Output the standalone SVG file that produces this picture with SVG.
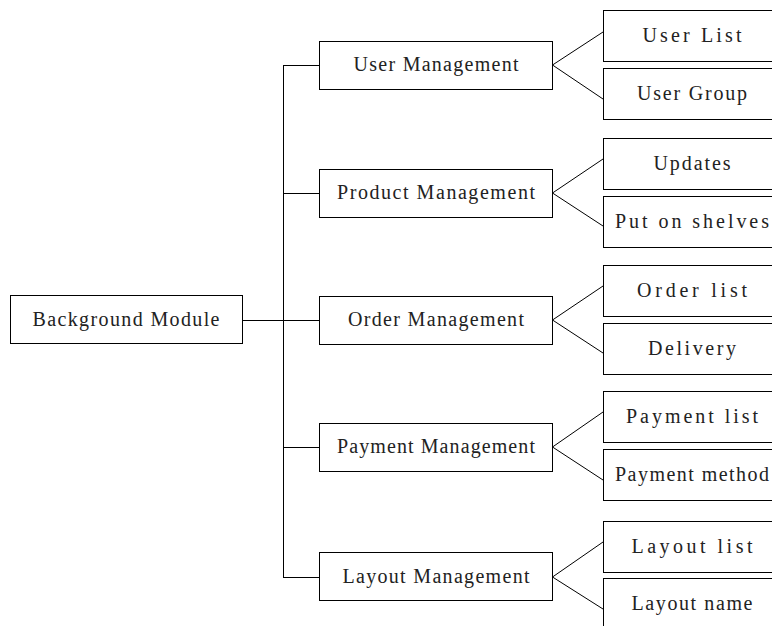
<svg xmlns="http://www.w3.org/2000/svg" width="772" height="626" viewBox="0 0 772 626">
<style>
.box{fill:#fff;stroke:#000;stroke-width:1}
.t{font-family:"Liberation Serif","DejaVu Serif",serif;font-size:20px;fill:#222;text-anchor:middle}
.ln{fill:none;stroke:#000;stroke-width:1}
</style>
<rect width="772" height="626" fill="#fff"/>
<g id="connectors">
<path class="ln" d="M242 320.5H283" stroke-width="2"/>
<path class="ln" d="M283.5 65.5V577.5"/>
<path class="ln" d="M283 65.5H319M283 193.5H319M283 320.5H319M283 447.5H319M283 577.5H319"/>
<path class="ln" d="M603 32L552.5 65L603 99"/>
<path class="ln" d="M603 159L552.5 193L603 226"/>
<path class="ln" d="M603 286L552.5 320L603 353"/>
<path class="ln" d="M603 412L552.5 447L603 480"/>
<path class="ln" d="M603 542L552.5 577L603 609"/>
</g>
<g id="root"><rect class="box" x="10.5" y="295.5" width="232" height="48"/><text class="t" x="126" y="326" textLength="187" lengthAdjust="spacing">Background Module</text></g>
<g id="user"><rect class="box" x="319.5" y="41.5" width="233" height="48"/><text class="t" x="436" y="71" textLength="165" lengthAdjust="spacing">User Management</text></g>
<g id="product"><rect class="box" x="319.5" y="169.5" width="233" height="48"/><text class="t" x="436" y="199" textLength="198" lengthAdjust="spacing">Product Management</text></g>
<g id="order"><rect class="box" x="319.5" y="296.5" width="233" height="48"/><text class="t" x="436" y="326" textLength="176" lengthAdjust="spacing">Order Management</text></g>
<g id="payment"><rect class="box" x="319.5" y="423.5" width="233" height="48"/><text class="t" x="436" y="453" textLength="198" lengthAdjust="spacing">Payment Management</text></g>
<g id="layout"><rect class="box" x="319.5" y="552.5" width="233" height="48"/><text class="t" x="436" y="583" textLength="187" lengthAdjust="spacing">Layout Management</text></g>
<g id="userlist"><rect class="box" x="603.5" y="10.5" width="200" height="51"/><text class="t" x="692" y="42" textLength="99" lengthAdjust="spacing">User List</text></g>
<g id="usergroup"><rect class="box" x="603.5" y="68.5" width="200" height="51"/><text class="t" x="692" y="100" textLength="110" lengthAdjust="spacing">User Group</text></g>
<g id="updates"><rect class="box" x="603.5" y="138.5" width="200" height="51"/><text class="t" x="692" y="170" textLength="77" lengthAdjust="spacing">Updates</text></g>
<g id="shelves"><rect class="box" x="603.5" y="196.5" width="200" height="51"/><text class="t" x="692" y="228" textLength="154" lengthAdjust="spacing">Put on shelves</text></g>
<g id="orderlist"><rect class="box" x="603.5" y="265.5" width="200" height="51"/><text class="t" x="692" y="297" textLength="110" lengthAdjust="spacing">Order list</text></g>
<g id="delivery"><rect class="box" x="603.5" y="323.5" width="200" height="51"/><text class="t" x="692" y="355" textLength="88" lengthAdjust="spacing">Delivery</text></g>
<g id="paymentlist"><rect class="box" x="603.5" y="391.5" width="200" height="51"/><text class="t" x="692" y="423" textLength="132" lengthAdjust="spacing">Payment list</text></g>
<g id="paymentmethod"><rect class="box" x="603.5" y="449.5" width="200" height="51"/><text class="t" x="692" y="481" textLength="154" lengthAdjust="spacing">Payment method</text></g>
<g id="layoutlist"><rect class="box" x="603.5" y="521.5" width="200" height="51"/><text class="t" x="692" y="553" textLength="121" lengthAdjust="spacing">Layout list</text></g>
<g id="layoutname"><rect class="box" x="603.5" y="578.5" width="200" height="51"/><text class="t" x="692" y="610" textLength="121" lengthAdjust="spacing">Layout name</text></g>
</svg>
